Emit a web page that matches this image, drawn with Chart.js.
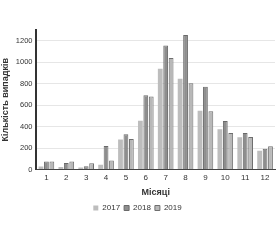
<!DOCTYPE html>
<html>
<head>
<meta charset="utf-8">
<script src="https://cdn.jsdelivr.net/npm/chart.js@4/dist/chart.umd.min.js"></script>
<style>
html,body{margin:0;padding:0;background:#fff;}
#wrap{width:280px;height:240px;position:relative;}
</style>
</head>
<body>
<div id="wrap"><canvas id="c" width="280" height="240"></canvas></div>
<script>
const months = ['1','2','3','4','5','6','7','8','9','10','11','12'];
const series2017 = [30, 25, 20, 45, 280, 455, 940, 845, 548, 375, 301, 175];
const series2018 = [75, 62, 32, 220, 330, 693, 1155, 1253, 772, 452, 341, 194];
const series2019 = [75, 75, 60, 85, 285, 680, 1040, 803, 543, 341, 304, 218];
const yTicks = [0, 200, 400, 600, 800, 1000, 1200];
const yLabel = 'Кількість випадків';
const xLabel = 'Місяці';

const font = 'Liberation Sans, Arial, sans-serif';
Chart.defaults.font.family = font;
Chart.defaults.color = '#333';

new Chart(document.getElementById('c'), {
  type: 'bar',
  data: {
    labels: months,
    datasets: [
      {label: '2017', data: series2017, backgroundColor: '#bdbdbd', borderColor: '#a9a9a9', borderWidth: 0},
      {label: '2018', data: series2018, backgroundColor: '#8e8e8e', borderColor: '#6a6a6a', borderWidth: 1},
      {label: '2019', data: series2019, backgroundColor: '#b8b8b8', borderColor: '#6e6e6e', borderWidth: 1}
    ]
  },
  options: {
    responsive: false,
    animation: false,
    devicePixelRatio: 1,
    layout: {padding: {top: 30, right: 5, bottom: 18, left: 0}},
    datasets: {bar: {categoryPercentage: 0.82, barPercentage: 0.88}},
    plugins: {
      legend: {
        position: 'bottom',
        labels: {boxWidth: 5, boxHeight: 5, padding: 4, font: {size: 8}, color: '#333'}
      },
      tooltip: {enabled: false}
    },
    scales: {
      x: {
        grid: {display: false, drawTicks: false},
        border: {display: true, color: '#444', width: 1},
        ticks: {font: {size: 8}, padding: 3, color: '#333'},
        title: {display: true, text: xLabel, font: {size: 9, weight: 'bold'}, color: '#333', padding: {top: 2, bottom: 2}}
      },
      y: {
        min: 0,
        max: 1300,
        afterBuildTicks: (s) => { s.ticks = yTicks.map(v => ({value: v})); },
        grid: {color: '#e6e6e6', lineWidth: 1, drawTicks: false},
        border: {display: true, color: '#333', width: 2},
        ticks: {font: {size: 7.5}, padding: 4, color: '#333', callback: (v) => String(v)},
        title: {display: true, text: yLabel, font: {size: 9, weight: 'bold'}, color: '#333', padding: {top: 0, bottom: 1}}
      }
    }
  }
});
</script>
</body>
</html>
